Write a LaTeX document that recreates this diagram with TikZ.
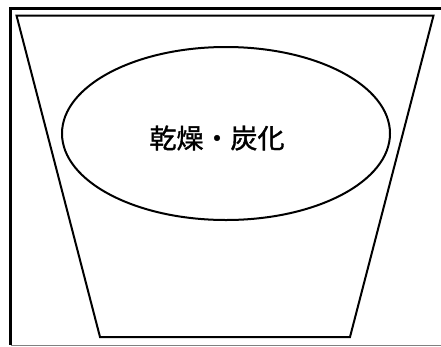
\documentclass[tikz,border=0pt]{standalone}
\usepackage{fontspec}
\newfontfamily\cjk{Noto Sans CJK JP}[FakeBold=1.3]
\usetikzlibrary{shapes.geometric,positioning}

\begin{document}
\begin{tikzpicture}[x=1pt,y=-1pt]
  \tikzset{frame/.style = {draw=black,line width=2.2pt}}
  \tikzset{furnace/.style = {draw=black,line width=2pt,line join=miter}}
  \tikzset{zone/.style = {shape=ellipse,draw,line width=2pt,minimum width=328pt,minimum height=173pt,inner sep=0pt}}
  \tikzset{label/.style = {font=\cjk\fontsize{27}{30}\selectfont,inner sep=0pt}}

  \useasboundingbox (0,0) rectangle (441,346);

  % outer frame (cut off at right)
  \draw[frame] (441,8.5) -- (10.5,8.5) -- (10.5,345);
  \draw[draw=gray,line width=1.2pt] (10.5,345.2) -- (441,345.2);

  % furnace body
  \coordinate (TL) at (16.5,15.5);
  \coordinate (TR) at (433.5,15.5);
  \coordinate (BR) at (350,337);
  \coordinate (BL) at (100,337);
  \draw[furnace] (TL) -- (TR) -- (BR) -- (BL) -- cycle;

  \node[zone] (dry) at (226,133.5) {};
  \node[label] (drytext) at (217,138) {乾燥・炭化};

\end{tikzpicture}
\end{document}
